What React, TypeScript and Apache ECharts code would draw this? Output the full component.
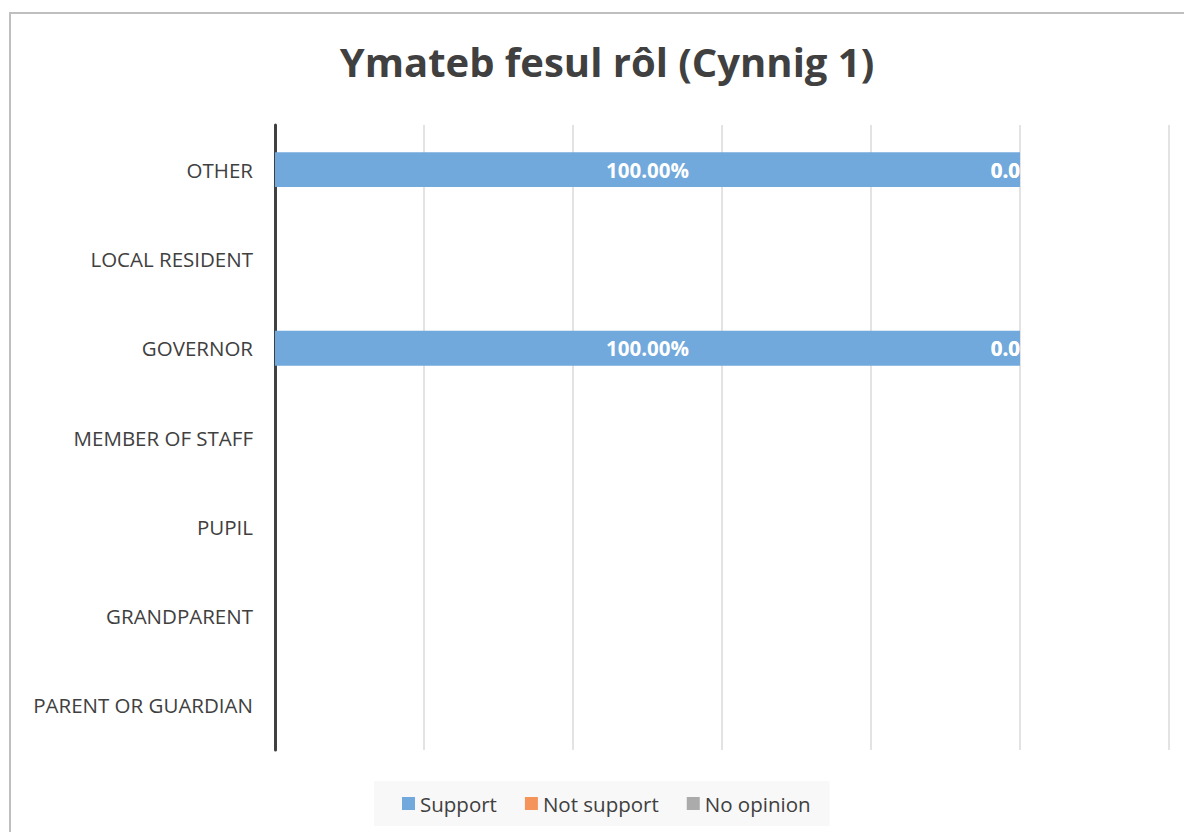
import React, { useEffect, useRef } from "react";
import * as echarts from "echarts";

const categories = [
  "PARENT OR GUARDIAN",
  "GRANDPARENT",
  "PUPIL",
  "MEMBER OF STAFF",
  "GOVERNOR",
  "LOCAL RESIDENT",
  "OTHER",
];
const supportValues = [null, null, null, null, 1, null, 1];
const notSupportValues = [null, null, null, null, 0, null, 0];
const noOpinionValues = [null, null, null, null, 0, null, 0];
const seriesNames = ["Support", "Not support", "No opinion"];
const titleText = "Ymateb fesul rôl (Cynnig 1)";

const FONT = "'Open Sans', 'Noto Sans', sans-serif";

export default function App() {
  const ref = useRef<HTMLDivElement>(null);
  useEffect(() => {
    if (!ref.current) return;
    const chart = echarts.init(ref.current, undefined, { renderer: "svg" });
    const pct = (p: any) => (p.value == null ? "" : (p.value * 100).toFixed(2) + "%");
    const zeroLabel = {
      show: true,
      position: "insideRight",
      distance: 0,
      color: "#ffffff",
      fontWeight: "bold",
      fontSize: 20.5,
      fontFamily: FONT,
      width: 34,
      overflow: "truncate",
      ellipsis: "",
      formatter: pct,
    };
    chart.setOption({
      animation: false,
      backgroundColor: "#ffffff",
      title: {
        text: titleText,
        left: 602,
        top: 36,
        textAlign: "center",
        textStyle: {
          fontFamily: FONT,
          fontWeight: "bold",
          fontSize: 40,
          color: "#404040",
        },
      },
      graphic: [
        {
          type: "rect",
          shape: { x: 10, y: 13, width: 1300, height: 900 },
          style: { fill: "none", stroke: "#bfbfbf", lineWidth: 2 },
          z: -1,
        },
      ],
      legend: {
        data: seriesNames,
        left: 374,
        top: 781,
        padding: [12, 19, 12, 28],
        backgroundColor: "#f8f8f8",
        itemWidth: 13,
        itemHeight: 13,
        itemGap: 28,
        icon: "rect",
        textStyle: { fontFamily: FONT, fontSize: 20.5, color: "#404040" },
      },
      grid: { left: 275, right: 15, top: 125, bottom: 82, containLabel: false },
      xAxis: {
        type: "value",
        min: 0,
        max: 1.2,
        interval: 0.2,
        axisLabel: { show: false },
        axisLine: { show: false },
        axisTick: { show: false },
        splitLine: { lineStyle: { color: "#e3e3e3", width: 2 } },
      },
      yAxis: {
        type: "category",
        data: categories,
        axisTick: { show: false },
        axisLine: { lineStyle: { color: "#404040", width: 3 } },
        axisLabel: {
          fontFamily: FONT,
          fontSize: 20.5,
          color: "#404040",
          margin: 22,
        },
      },
      series: [
        {
          name: seriesNames[0],
          type: "bar",
          stack: "total",
          data: supportValues,
          barCategoryGap: "61%",
          itemStyle: { color: "#72a9dc" },
          label: {
            show: true,
            position: "inside",
            color: "#ffffff",
            fontWeight: "bold",
            fontSize: 20.5,
            fontFamily: FONT,
            formatter: pct,
          },
        },
        {
          name: seriesNames[1],
          type: "bar",
          stack: "total",
          data: notSupportValues,
          itemStyle: { color: "#f4935a" },
          label: zeroLabel,
        },
        {
          name: seriesNames[2],
          type: "bar",
          stack: "total",
          data: noOpinionValues,
          itemStyle: { color: "#ababab" },
          label: zeroLabel,
        },
      ],
    });
    return () => chart.dispose();
  }, []);
  return <div ref={ref} style={{ width: 1184, height: 832, position: "absolute", left: 0, top: 0 }} />;
}
